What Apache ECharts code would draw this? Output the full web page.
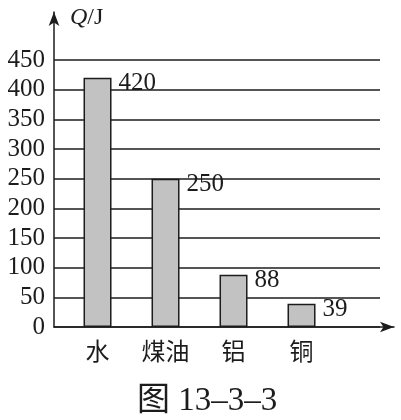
<!DOCTYPE html>
<html>
<head>
<meta charset="utf-8">
<script src="https://cdn.jsdelivr.net/npm/echarts@6/dist/echarts.min.js"></script>
<style>
html,body{margin:0;padding:0;background:#fff;}
#c{width:401px;height:420px;}
</style>
</head>
<body>
<div id="c"></div>
<script>
const categories = ['水', '煤油', '铝', '铜'];
const heatValues = [420, 250, 88, 39];
const yTicks = [0, 50, 100, 150, 200, 250, 300, 350, 400, 450];
const caption = '图 13–3–3';
const axisName = 'Q/J';

const serif = 'Liberation Serif, DejaVu Serif, serif';
const ink = '#1c1c1c';

const chart = echarts.init(document.getElementById('c'), null, {renderer: 'canvas'});
const xMin = -0.64;
const unit = 68;
const gridLeft = 54, gridBottom = 93;
const gridARight = 21, gridBRight = 7;
const plotW = 401 - gridLeft - gridARight;

chart.setOption({
  animation: false,
  backgroundColor: '#fff',
  title: {
    text: caption, left: 132, top: 380,
    textStyle: {fontFamily: serif + ', Noto Sans CJK SC', fontSize: 33, fontWeight: 'normal', color: ink}
  },
  grid: [
    {left: gridLeft, right: gridARight, top: 60, bottom: gridBottom},
    {left: gridLeft, right: gridBRight, top: 12, bottom: gridBottom}
  ],
  xAxis: [
    {
      type: 'value', gridIndex: 0, min: xMin, max: xMin + plotW / unit,
      axisLine: {show: false}, axisTick: {show: false}, splitLine: {show: false},
      axisLabel: {
        customValues: categories.map((c, i) => i),
        formatter: v => categories[Math.round(v)] || '',
        fontFamily: 'Noto Sans CJK SC', fontSize: 24, color: ink, margin: 12
      }
    },
    {
      type: 'value', gridIndex: 1, min: 0, max: 1,
      axisLine: {show: true, symbol: ['none', 'arrow'], symbolSize: [8, 14], lineStyle: {color: ink, width: 1.5}},
      axisTick: {show: false}, axisLabel: {show: false}, splitLine: {show: false}
    }
  ],
  yAxis: [
    {
      type: 'value', gridIndex: 0, min: yTicks[0], max: yTicks[yTicks.length - 1], interval: 50,
      axisLine: {show: false}, axisTick: {show: false},
      splitLine: {show: true, lineStyle: {color: ink, width: 1.5}},
      axisLabel: {fontFamily: serif, fontSize: 25, color: ink, margin: 9}
    },
    {
      type: 'value', gridIndex: 1, min: 0, max: 531,
      name: '{q|Q}/J', nameLocation: 'end', nameGap: -6,
      nameTextStyle: {
        fontFamily: serif, fontSize: 24, color: ink, align: 'left', verticalAlign: 'middle',
        padding: [0, 0, 0, 16],
        rich: {q: {fontFamily: serif, fontSize: 24, fontStyle: 'italic', color: ink}}
      },
      axisLine: {show: true, symbol: ['none', 'arrow'], symbolSize: [8, 14], lineStyle: {color: ink, width: 1.5}},
      axisTick: {show: false}, axisLabel: {show: false}, splitLine: {show: false}
    }
  ],
  series: [{
    type: 'bar', xAxisIndex: 0, yAxisIndex: 0,
    barWidth: 28,
    data: heatValues.map((v, i) => [i, v]),
    itemStyle: {color: '#c2c2c2', borderColor: ink, borderWidth: 1.5},
    label: {
      show: true, position: [35, 6], align: 'left', verticalAlign: 'middle',
      formatter: p => p.value[1],
      fontFamily: serif, fontSize: 25, color: ink
    },
    z: 5
  }]
});
</script>
</body>
</html>
